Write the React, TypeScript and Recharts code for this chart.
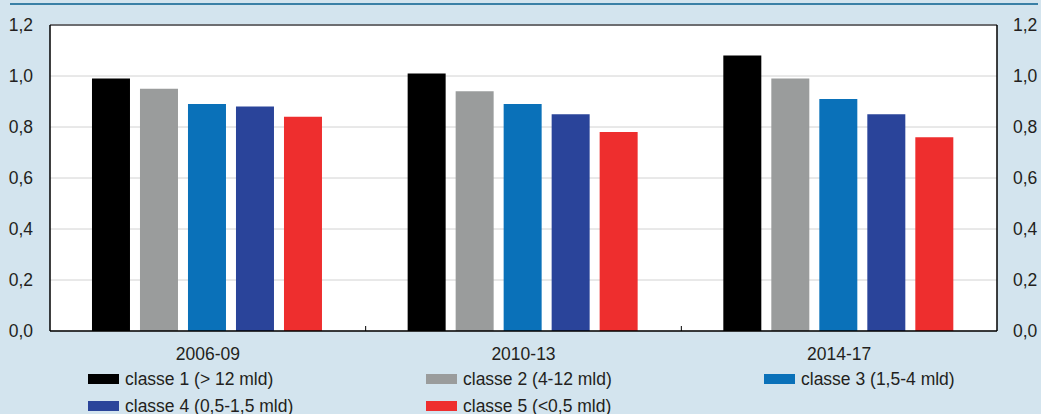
import React from "react";
import {
  ComposedChart,
  Bar,
  Line,
  XAxis,
  YAxis,
  CartesianGrid,
  ReferenceLine,
} from "recharts";

// periodi
const periods = ["2006-09", "2010-13", "2014-17"];

// valori per classe dimensionale
const classe1 = [0.99, 1.01, 1.08];
const classe2 = [0.95, 0.94, 0.99];
const classe3 = [0.89, 0.89, 0.91];
const classe4 = [0.88, 0.85, 0.85];
const classe5 = [0.84, 0.78, 0.76];

const yTicks = [0, 0.2, 0.4, 0.6, 0.8, 1.0, 1.2];

const series = [
  { key: "c1", name: "classe 1 (> 12 mld)", color: "#000000", values: classe1 },
  { key: "c2", name: "classe 2 (4-12 mld)", color: "#9a9c9c", values: classe2 },
  { key: "c3", name: "classe 3 (1,5-4 mld)", color: "#0a71b9", values: classe3 },
  { key: "c4", name: "classe 4 (0,5-1,5 mld)", color: "#2a449a", values: classe4 },
  { key: "c5", name: "classe 5 (<0,5 mld)", color: "#ee2e2e", values: classe5 },
];

const data = periods.map((p, i) => {
  const row: { name: string; [k: string]: string | number } = { name: p };
  series.forEach((s) => {
    row[s.key] = s.values[i];
  });
  return row;
});

const fmt = (v: number) => v.toFixed(1).replace(".", ",");

const FONT = "'Liberation Sans', Arial, Helvetica, sans-serif";
const TEXT = "#231f20";
const FS = 17.5;
const LABEL_MARGIN = 17;

// posizioni delle colonne della legenda
const legendCols = [88, 426, 764];

// etichetta di categoria + piccola tacca interna sul bordo sinistro della banda
const CategoryTick = (props: any) => {
  const { x, y, payload, index } = props;
  const axisY = y - LABEL_MARGIN;
  const edge = x - (payload.offset || 0);
  return (
    <g>
      {index > 0 && (
        <line x1={edge} x2={edge} y1={axisY} y2={axisY - 5} stroke="#000" />
      )}
      <text
        x={x}
        y={y}
        dy="0.71em"
        textAnchor="middle"
        fill={TEXT}
        fontSize={FS}
        fontFamily={FONT}
      >
        {payload.value}
      </text>
    </g>
  );
};

export default function App() {
  return (
    <div
      style={{
        position: "absolute",
        left: 0,
        top: 0,
        width: 1041,
        height: 414,
        background: "#d3e4ee",
        fontFamily: FONT,
        overflow: "hidden",
      }}
    >
      <div
        style={{
          position: "absolute",
          left: 10,
          top: 3,
          width: 1028,
          height: 2,
          background: "#3a80a6",
        }}
      />
      <ComposedChart
        width={1041}
        height={414}
        data={data}
        margin={{ top: 25, right: 0, left: 0, bottom: 53 }}
        barCategoryGap="13.3%"
        barGap={10}
      >
        <CartesianGrid
          vertical={false}
          stroke="#d2d2d2"
          fill="#ffffff"
          fillOpacity={1}
        />
        <ReferenceLine y={1.2} stroke="#6d6e71" strokeWidth={2} />
        <XAxis
          dataKey="name"
          axisLine={{ stroke: "#000", strokeWidth: 1.5 }}
          tickLine={false}
          tickSize={0}
          tickMargin={LABEL_MARGIN}
          height={30}
          tick={<CategoryTick />}
        />
        <YAxis
          domain={[0, 1.2]}
          ticks={yTicks}
          width={50}
          axisLine={{ stroke: "#000", strokeWidth: 1.5 }}
          tickLine={false}
          tickSize={0}
          tickMargin={17}
          tickFormatter={fmt}
          tick={{ fill: TEXT, fontSize: FS, fontFamily: FONT }}
        />
        <YAxis
          yAxisId="right"
          orientation="right"
          domain={[0, 1.2]}
          ticks={yTicks}
          width={44}
          axisLine={{ stroke: "#000", strokeWidth: 1.5 }}
          tickLine={false}
          tickSize={0}
          tickMargin={16}
          tickFormatter={fmt}
          tick={{ fill: TEXT, fontSize: FS, fontFamily: FONT }}
        />
        {series.map((s) => (
          <Bar
            key={s.key}
            dataKey={s.key}
            name={s.name}
            fill={s.color}
            isAnimationActive={false}
          />
        ))}
        {/* serie invisibile per attivare l'asse destro */}
        <Line
          yAxisId="right"
          dataKey="c1"
          stroke="none"
          dot={false}
          activeDot={false}
          legendType="none"
          isAnimationActive={false}
        />
      </ComposedChart>
      {series.map((s, i) => {
        const col = i % 3;
        const row = Math.floor(i / 3);
        return (
          <div
            key={s.key}
            style={{
              position: "absolute",
              left: legendCols[col],
              top: 368 + row * 27,
              height: 22,
              display: "flex",
              alignItems: "center",
              fontSize: FS,
              color: TEXT,
              whiteSpace: "nowrap",
            }}
          >
            <span
              style={{
                display: "inline-block",
                width: 31,
                height: 10,
                background: s.color,
                marginRight: 6,
              }}
            />
            {s.name}
          </div>
        );
      })}
    </div>
  );
}
